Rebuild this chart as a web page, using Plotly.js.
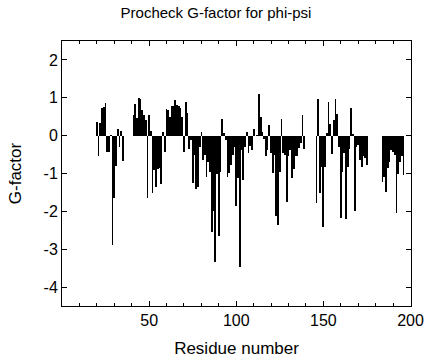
<!DOCTYPE html>
<html>
<head>
<meta charset="utf-8">
<script src="https://cdn.plot.ly/plotly-3.0.1.min.js"></script>
<style>html,body{margin:0;padding:0;background:#fff;}#chart{width:432px;height:360px;}</style>
</head>
<body>
<div id="chart"></div>
<script>
// Residue numbers and their G-factor values
const residues = [
  20,21,22,23,24,25,26,27,28,29,30,31,32,33,34,35,
  41,42,43,44,45,46,47,48,49,50,51,52,53,54,55,56,57,58,59,
  60,61,62,63,64,65,66,67,68,69,70,71,72,73,74,75,76,77,78,79,
  80,81,82,83,84,85,86,87,88,89,90,91,92,93,94,95,96,97,98,99,
  100,101,102,103,104,105,106,107,108,109,110,111,112,113,114,115,116,117,118,119,
  120,121,122,123,124,125,126,127,128,129,130,131,132,133,134,135,136,137,138,139,
  146,147,148,149,150,151,152,153,154,155,156,157,158,159,
  160,161,162,163,164,165,166,167,168,169,170,171,172,173,174,175,
  184,185,186,187,188,189,190,191,192,193,194,195,196
];
const gfactor = [
  0.37,-0.55,0.33,0.74,0.76,0.85,-0.42,-0.42,0.03,-2.9,-1.64,-0.79,0.18,-0.29,0.12,-0.66,
  0.55,0.84,0.47,1.0,0.97,0.68,0.55,0.41,-1.64,0.55,0.13,-1.52,-0.9,-1.35,-0.89,-0.85,-1.27,0.1,-0.42,
  0.7,0.68,0.5,0.77,0.79,0.94,0.81,0.77,0.72,0.5,-0.42,0.88,0.59,-0.35,-0.11,-1.26,-0.51,-1.41,-1.35,-0.29,
  0.1,-0.64,-0.5,-1.1,-0.69,-0.95,-2.55,-2.0,-3.33,-1.0,-2.66,-0.95,0.43,0.08,-0.11,-1.1,-0.99,-0.77,-0.51,-0.29,
  -1.87,-1.11,-3.47,-0.38,-1.17,-0.29,0.1,-0.47,-0.27,-0.38,0.18,-0.02,0.02,1.1,0.48,0.1,-0.09,-0.55,-0.38,0.28,
  -0.47,-0.99,-0.51,-2.11,-2.36,-0.95,0.44,-0.47,-0.51,-1.75,-0.55,-0.38,-1.13,-0.88,-0.55,-0.55,-0.33,-0.2,0.55,-0.35,
  -1.78,0.97,-1.52,-0.82,-2.4,-0.82,0.08,0.88,0.3,-0.48,0.41,0.97,0.57,-0.29,
  -2.18,-0.95,-0.47,-2.2,-0.82,-0.35,0.72,0.04,-2.0,-0.29,-0.25,-0.64,-0.82,-0.55,-0.6,-0.77,
  -1.22,-1.08,-1.5,-0.86,-0.69,-0.38,-0.42,-0.51,-2.05,-1.0,-0.69,-0.55,-1.04
];
const xTickVals = [50, 100, 150, 200];
const yTickVals = [2, 1, 0, -1, -2, -3, -4];

const font = "Liberation Sans, Arial, Helvetica, sans-serif";

const trace = {
  type: 'bar',
  x: residues,
  y: gfactor,
  width: 1,
  marker: {color: '#000', line: {width: 0}},
  hoverinfo: 'x+y'
};

const layout = {
  width: 432, height: 360,
  margin: {l: 62, r: 21, t: 41, b: 54},
  paper_bgcolor: '#fff', plot_bgcolor: '#fff',
  showlegend: false,
  bargap: 0,
  font: {family: font, size: 16, color: '#000'},
  title: {text: 'Procheck G-factor for phi-psi', font: {family: font, size: 15, color: '#000'}, x: 0.5, xanchor: 'center', y: 0.965, yanchor: 'middle'},
  xaxis: {
    range: [0, 200.3],
    tickmode: 'array', tickvals: xTickVals, ticktext: xTickVals.map(String),
    ticks: 'inside', ticklen: 5, tickwidth: 1, tickcolor: '#000',
    minor: {dtick: 10, tick0: 0, ticks: 'inside', ticklen: 3, tickwidth: 1, tickcolor: '#000'},
    showline: true, linecolor: '#000', linewidth: 1, mirror: 'allticks',
    showgrid: false, zeroline: false,
    tickfont: {family: font, size: 16, color: '#000'},
    title: {text: 'Residue number', font: {family: font, size: 17, color: '#000'}, standoff: 13}
  },
  yaxis: {
    range: [-4.5, 2.5],
    tickmode: 'array', tickvals: yTickVals, ticktext: yTickVals.map(String),
    ticks: 'inside', ticklen: 5, tickwidth: 1, tickcolor: '#000',
    showline: true, linecolor: '#000', linewidth: 1, mirror: 'allticks',
    showgrid: false, zeroline: false,
    tickfont: {family: font, size: 16, color: '#000'},
    title: {text: 'G-factor', font: {family: font, size: 17, color: '#000'}, standoff: 17}
  }
};

Plotly.newPlot('chart', [trace], layout, {staticPlot: true, displayModeBar: false});
</script>
</body>
</html>
